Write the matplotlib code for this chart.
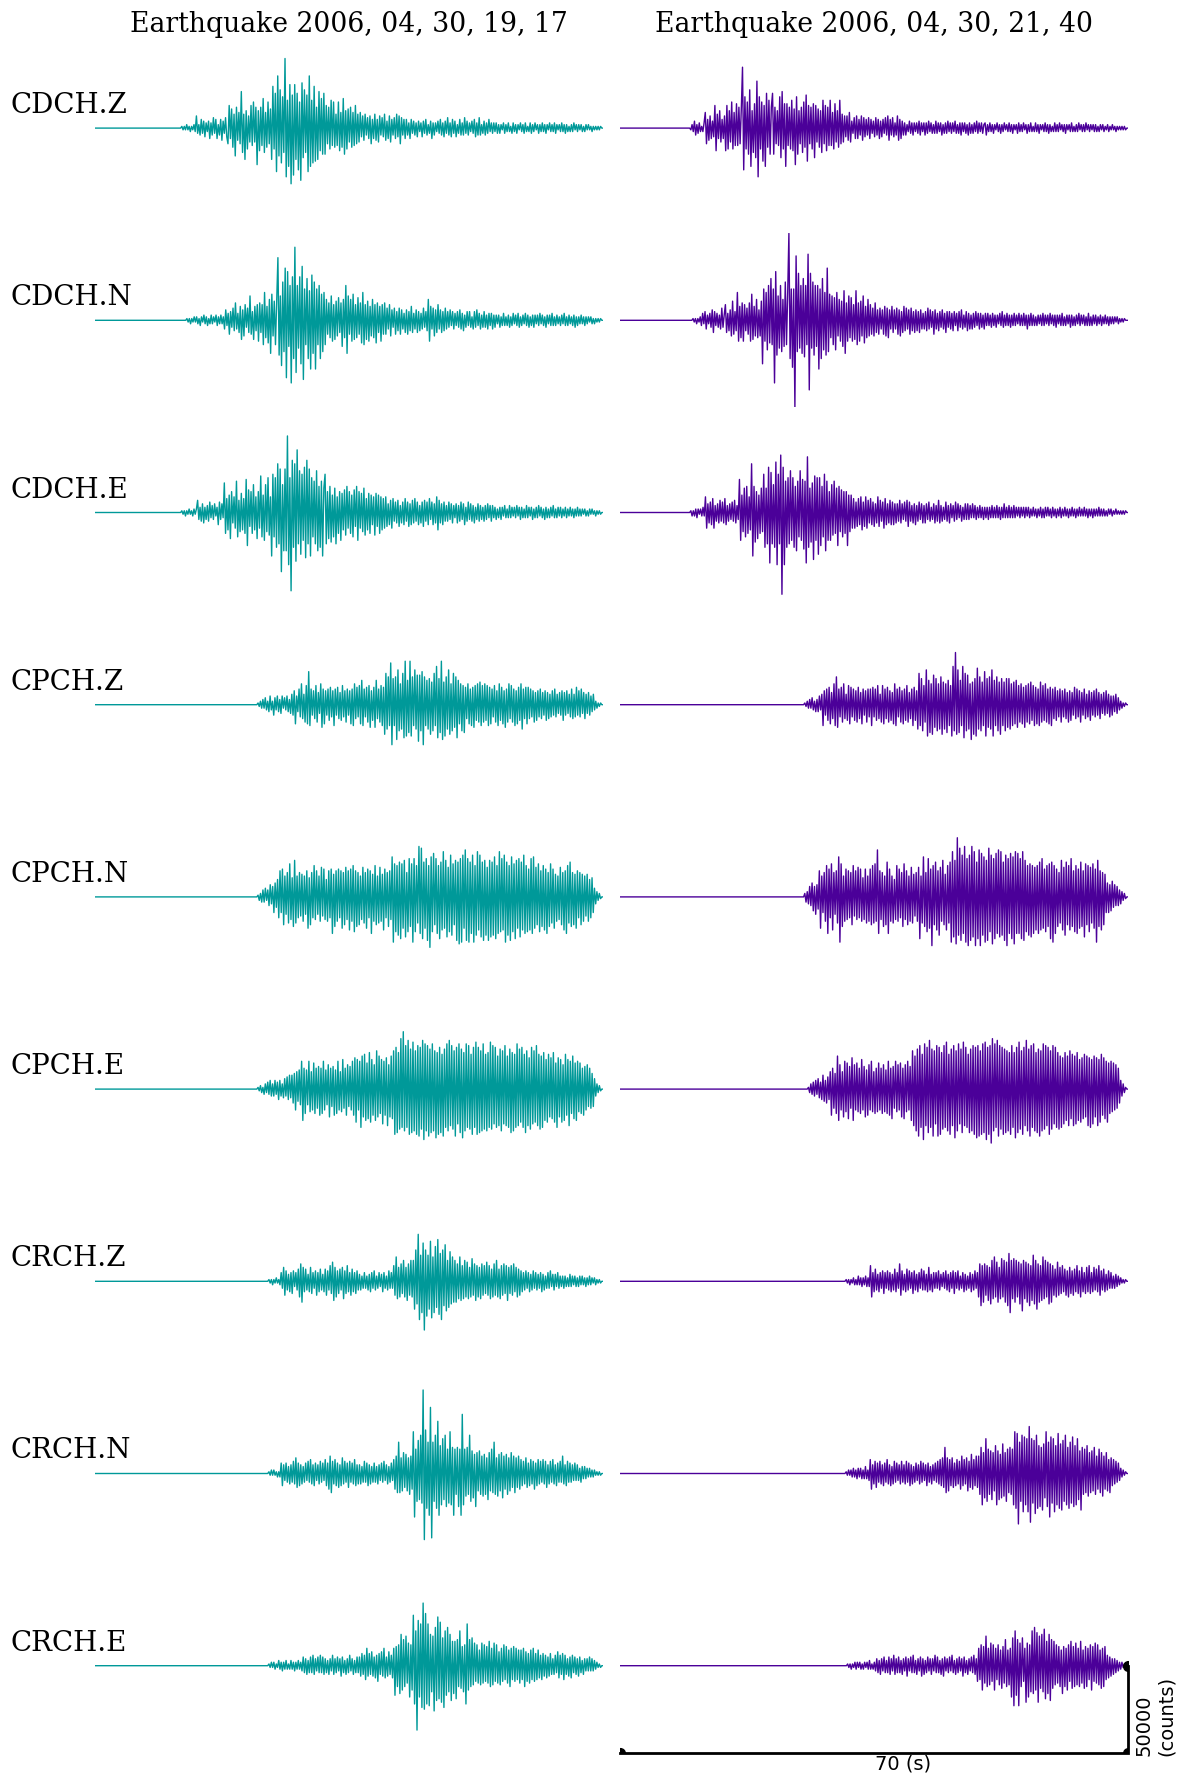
import numpy as np
import matplotlib
matplotlib.use("Agg")
import matplotlib.pyplot as plt


def _v(s):
    return [int(x) for x in s.split()]


# ---------------- data (amplitudes in thousands of counts) ----------------
T_END = 70.0
stations = ["CDCH.Z", "CDCH.N", "CDCH.E", "CPCH.Z", "CPCH.N", "CPCH.E",
            "CRCH.Z", "CRCH.N", "CRCH.E"]
titles = ["Earthquake 2006, 04, 30, 19, 17", "Earthquake 2006, 04, 30, 21, 40"]
onset_a = [11.8, 12.5, 11.8, 22.3, 22.3, 22.3, 23.8, 23.8, 23.8]
onset_b = [9.6, 9.9, 9.6, 25.3, 25.3, 25.8, 31.0, 31.0, 31.2]

cdch_z_a = _v("""
0 1 -1 1 -1 2 -1 1 -2 1 -1 2 -2
7 -3 2 -4 5 -3 4 -5 3 -2 4 -6 3 -4 6 -3 5 -6 2 -4 5 -7 4 -3 6 -5
-9 13 -6 11 -11 8 -16 12 -7 9 -9 21 -14 8 -18 10 -12 7 -8
13 -10 15 -8 12 -21 10 -13 12 -10 17 -14 9 -11 15 -9 11
-18 24 -12 20 -25 30 -16 22 -20 18 -14 40 -28 16 -22 25 -32 19 -27 25 -18 20 -24 15 -30 26 -17 22
-14 19 -25 30 -22 16 -20 24 -19 12 -18 21 -13 17 -15 20
-15 13 -9 12 -12 16 -10 15 -11 8 -10 15 -13 9 -11 17 -15 10 -12 11 -8 12 -11 9 -10 13 -9 8
-8 9 -5 7 -7 8 -4 6 -6 7 -9 5 -6 8 -7 5 -8 7 -4 6 -5 8 -7 4 -6 7 -8 5 -4 6 -6 8 -5 7 -9 6 -4 5 -6
5 -4 3 -6 5 -3 4 -4 3 -5 4 -2 3 -5 4 -3 5 -4 2 -3 4 -6 3 -4 3 -2 4 -3 5 -4 3 -5 4 -3
6 -4 3 -5 5 -3 4 -5 2 -3 5 -4 3 -4 6 -3 4 -4 3 -2 4 -3 5 -5 3 -4 6 -4 2 -3 4 -4 3 -3 5 -2 3 -3
3 -2 3 -3 2 -3 2 -1 3 -3 2 -2 3 -2 1 -3 3 -2 2 -3 2 -1 3 -2 2 -3 3 -2 1 -2 3 -3 2 -2 3 -1 2 -3
2 -2 3 -2 2 -3 2 -1 3 -2 2 -2 3 -3 2 -1 2 -2 3 -2 2 -3 2 -2 1 -2 2 -2 3 -1 2 -2 2 -1 2 -2 1 -2
2 -1 2 -1 1 -2 1
-1 1 -1 1 -1 1 0 0
""")
cdch_n_a = _v("""
0 1 -1 1 -2 1 -1 2 -1 2 -2 1 -3 2 -1 3 -2 2 -3 1 -2 3 -2 2 -1 3 -3 2 -2 3 -2 2
-5 6 -3 4 -8 5 -4 7 -6 10 -5 4 -7 8 -11 6 -9 9 -4 7 -7 14 -8 5 -11 8 -6 9
-12 10 -7 9 -14 16 -10 8 -13 12 -19 15 -9 11 -14 12
36 -20 14 -26 22 -18 30 -33 28 -15 20 -36 25 -22 42 -30 20 -16 25 -25 31 -34 18 -14 24 -22 17 -28
26 -19 22 -28 18 -14 20 -22 15 -18 16
-14 12 -8 10 -10 14 -12 9 -11 11 -9 13 -7 10 -15 12 -10 20 -19 14 -8 12 -12 15 -11 9 -10 13 -8 10
-13 16 -14 9 -11 11 -12 8 -9 12 -10 9 -13 10 -7 8 -12 9 -8 10
-8 7 -5 9 -9 6 -4 7 -8 5 -6 7 -8 6 -5 4 -7 6 -8 5 -6 8 -7 4 -5 6 -7 5 -6 4 -5 7 -4 5
-6 12 -12 8 -5 7 -9 6 -7 9 -5 6 -7 5 -6 7 -5
5 -4 6 -3 5 -5 4 -3 5 -4 6 -5 4 -6 3 -4 5 -3 5 -4 2 -5 5 -4 6 -3 4 -5 3 -4 5 -4 3 -5 4 -3 4 -5
3 -4 3 -2 3 -4 2 -3 4 -3 2 -3 3 -4 2 -3 4 -2 3 -3 4 -4 2 -3 3 -2 4 -3 3 -4 2 -3 3 -4 3 -2 3 -3
4 -2 3 -3 2 -4 3 -2 3 -3 4 -3 2 -3 3 -2 2 -3 3 -2 4 -3 2 -3 3 -2 2 -3 3 -4 2 -3 2 -2 3 -2 2 -3
2 -2 2 -1 2 -2 1
-2 1 -1 1 -1 1 0 0
""")
cdch_e_a = _v("""
0 1 -1 1 -2 1 -1 2 -1 1 -2 2 -1 2
7 -4 3 -5 5 -6 3 -4 4 -5 6 -3 4 -4 5 -2 3 -7 6 -4 5 -3
17 -12 8 -10 10 -15 12 -6 9 -9 18 -14 7 -11 11 -10 8 -12 19 -19 13 -8 12 -12 16 -10 9 -15 12 -9
21 -14 10 -16 16 -11 20 -13 9
-25 22 -14 20 -20 28 -18 25 -34 16 -22 25 -22 44 -30 20 -45 30 -20 28 -28 36 -18 24 -24 22 -16 26
-26 30 -18 25 -25 20 -14 18 -18 24 -22 15 -20 18 -25 14
22 -18 12 -15 15 -17 10 -14 14 -18 9 -12 12 -16 11 -10 13 -13 15 -9 12 -12 10 -14 13 -8 15 -16 12
-9 11 -11 14 -13 8 -10 11 -12 10 -7 9 -13 11 -8 10 -12 9 -10 8 -9
9 -8 5 -7 7 -9 8 -5 6 -6 7 -8 4 -6 6 -7 8 -5 6 -8 5 -7 7 -6 8 -5 6 -7 4 -6 6 -8 7 -5 6 -7 8 -4
6 -7 5 -6 9 -10 7 -6 5 -7 6 -5 4
-5 6 -4 5 -6 4 -3 5 -6 4 -5 6 -4 5 -7 3 -5 6 -4 5 -5 4 -6 3 -4 5 -5 4 -4 3 -5 4 -4 5 -3 4 -5 4
-3 3 -4 2 -3 3 -4 3 -2 4 -3 2 -3 4 -3 3 -2 3 -3 4 -2 3 -4 3 -3 2 -3 4 -3 3 -2 3 -4 2 -3 3 -3 4
-2 3 -3 2 -4 3 -3 2 -3 3 -2 4 -3 2 -3 3 -2 3 -3 2 -2 3 -3 2 -2 3 -2 2 -3 2 -2 3 -2 2 -2 2 -1 2
-2 1 -2 2 -1 2 -1
1 -2 1 -1 1 -1 0 0
""")
cpch_z_a = _v("""
0 1 -1 2 -2 3 -2 4 -3 2 -4 5 -3 2 -6 4 -3 5 -4 3 -5 5 -2 4 -3 5 -4 3 -5
6 -6 8 -11 5 -4 9 -7 12 -8 6 -10 11 -11 19 -12 9 -6 8 -8 11 -10 7 -5 12 -13 9 -11 8 -6 9 -9 10
-7 8 -12 9 -6 10 -8 7 -9 11 -7
8 -10 9 -6 8 -11 9 -12 12 -8 10 -7 11 -11 14 -12 9 -7 10 -10 11 -13 8 -9 10 -13 14 -8 9 -10 11
-12 10
-17 18 -14 16 -12 24 -23 15 -12 16 -20 20 -15 12 -14 18 -19 25 -18 14 -16 25 -18 16 -12 20 -14 17
-21 17 -15 19 -23 16 -12 14 -14 15 -17 13 -15 18 -12 22 -19 15 -16 25 -20 13 -18 16 -14 20 -17
12 -15 18 -13 16 -19 14 -11
12 -15 11 -16 10 -8 12 -11 9 -12 10 -13 11 -9 12 -10 13 -12 11 -10 12 -9 11 -12 10 -11 9 -7 11
-10 8 -12 12 -9 10 -11 8 -13 9 -10 12 -8 11 -10 9 -12 8 -11 10 -9 12 -14 9 -8 10 -11
10 -8 9 -7 8 -10 7 -9 8 -7 9 -8 7 -6 8 -9 7 -8 6 -7 8 -6 9 -7 6 -5 7 -6 8 -9 7 -6 8 -5 6 -7 9
-8 6 -7 10 -6 8 -7 9 -5 7 -8 6 -5 7 -6 5 -4 6
-3 2 -2 1 -1 1 0 0
""")
cpch_n_a = _v("""
0 1 -2 2 -3 4 -3 5 -2 4 -5 7 -4 6 -9 8 -6
10 -12 15 -9 16 -16 12 -10 14 -15 19 -13 11 -17 21 -15 12 -12 14 -11 13 -14 12 -10 15 -18 11 -16
14 -12 18 -13 15 -10 12 -14 17 -11 16 -13 10 -14 15 -12
16 -21 13 -17 15 -14 16 -12 15 -18 14 -16 17 -13 15 -19 16 -14 18 -20 15 -17 14 -16 12 -13 17 -15
14 -18 16 -12 15 -21 13 -14 18 -16 12 -15 17 -14 13 -19 16 -12 14 -17 15 -13
23 -26 19 -20 18 -22 20 -24 19 -18 21 -23 14 -20 22 -17 19 -26 22 -20 18 -15 29 -21 28 -24 20 -18
22 -25 18 -29 23 -20 25 -16 22 -21 18 -24 20 -19 26 -18 21 -23 17 -20 24 -22 19 -16 21 -25 20
-27 22 -26 24 -18 27 -25 22 -26 20 -21 24 -26 18 -22 26 -19 24 -23 20 -25 21 -22 17 -25 21 -23 20
-22 23 -24 18 -21 26 -20 22 -19 24 -26 20 -22 18 -25 23 -20 19 -24 21 -18 22 -23 20 -19 24 -21 18
-20 16 -19 22 -21 23 -18 17 -16 19 -20 15 -17 18 -19 16 -21 14 -17 19 -15 16 -18 13 -14 12 -13 17
-16 14 -19 15 -21 18 -15 20 -17 14 -16 13 -18 15 -12 14 -16 13 -14 12 -11 13 -14 10 -12 11 -9
5 -4 3 -2 2 -1 0 0
""")
cpch_e_a = _v("""
0 1 -1 2 -2 1 -3 3 -2 4 -3 5 -4 3 -4 5 -3 4 -6 5 -4 3 -5 6 -4 7 -6 8 -5
8 -8 9 -12 10 -7 11 -9 16 -18 12 -14 11 -9 16 -13 10 -12 15 -14 12 -11 13 -15 12 -14 16 -12 11 -9
14 -16 12 -10 13 -15 11 -14 16 -12 10 -13 17 -11 12 -15 14 -10 13 -12
16 -15 18 -19 17 -12 16 -22 19 -16 20 -18 15 -17 21 -19 17 -15 14 -18 22 -16 19 -14 17 -20 16 -15
18 -21 14 -16 19 -17
22 -26 24 -25 21 -23 29 -22 33 -24 25 -22 28 -26 23 -25 27 -24 22 -26 25 -27 24 -23 28 -29 26 -24
25 -27 23 -25 26 -24 22 -28 21 -26 24 -25 20 -27 23 -22 26 -24 28 -21 25 -23 22 -27 24 -20 26 -25
23 -28 21 -24 26 -22 25 -23 20 -26 24 -22 27
-26 24 -25 22 -24 26 -23 20 -24 21 -22 27 -23 25 -20 24 -22 19 -21 23 -24 22 -20 25 -21 19 -22 23
-25 21 -24 20 -22 26 -21 23 -19 24 -22 20 -25 22 -21 18 -23 24 -20 22 -19 25 -21 20 -23 19 -22 21
-18 17 -19 20 -16 18 -17 21 -19 15 -22 18 -16 17 -19 14 -18 20 -15 17 -21 16 -14 19 -17 15 -18 16
-13 15 -14 12 -15 13 -12 14 -10 12 -11 9 -10
6 -4 3 -2 2 -1 0 0
""")
crch_z_a = _v("""
0 1 -1 1 -2 1 -1 2 -1 1 -2
5 -4 8 -8 6 -5 4 -6 5 -7 6 -3 5 -5 7 -9 10 -12 8 -6 7 -5 4 -6 8 -7 5 -4 6 -8 5 -6 7 -5 4 -6
7 -8 6 -5 9 -7 11 -11 8 -9 6 -7 7 -5 8 -10 6 -7 9 -6 5 -8 7 -6 5 -7 6 -5
4 -5 3 -4 5 -4 3 -5 4 -6 5 -4 6 -5 3 -4 5 -3 4 -6 5 -4 3 -5 6 -4 5 -4
9 -8 14 -10 8 -9 10 -7 12 -9 8 -11 10 -8 12 -9
12 -16 18 -13 27 -22 15 -18 22 -28 18 -20 15 -16 23 -21 14 -18 20 -15 24 -19 16 -22 18 -14 21 -17
12 -15 17 -13 14 -12
12 -12 10 -10 14 -11 9 -10 12 -9 11 -10 8 -9 13 -8 10 -11 9 -9 8 -10 10 -8 9 -7 11 -8 9 -10 7 -9
10 -8 12 -9 7 -10 9 -8 10 -7 9 -11 8 -7 9 -8 10 -6 8 -9 7 -8
6 -6 5 -5 6 -4 5 -6 4 -5 6 -4 5 -5 4 -4 5 -6 4 -5 3 -4 5 -4 6 -3 4 -5 4 -3 5 -4 3
-3 3 -4 3 -3 2 -3 4 -3 3 -2 3 -3 2 -3 3 -2 3 -2 2 -3 2 -2 3 -2 2 -1 2 -2 1 -1 1 -1 0 0
""")
crch_n_a = _v("""
0 1 -1 2 -1 2 -1 1 -2 1 -2
6 -7 5 -4 6 -5 4 -6 5 -5 7 -6 9 -8 6 -7 5 -6 4 -5 6 -4 7 -5 8 -6 5 -7 6 -4 5 -6 7 -5 6 -4
8 -7 6 -9 10 -11 7 -6 8 -7 6 -8 5 -7 9 -6 7 -5 6 -8 7 -5 6 -6 8 -7 5 -6
5 -6 4 -5 7 -5 6 -7 5 -6 4 -5 6 -5 4 -6 5 -4 6 -5 7 -4 5 -6 4 -5 6 -4
8 -9 10 -11 18 -11 9 -10 12 -8 11 -10 9 -12 10 -9
24 -25 14 -16 19 -15 22 -17 48 -38 25 -20 18 -24 38 -37 18 -16 22 -20 30 -24 16 -18 20 -15 22 -19
14 -17 24 -18 15 -24
14 -12 15 -19 14 -24 34 -18 14 -13 15 -12 22 -16 13 -14 11 -19 12 -10 13 -12 10 -13 11 -12 9 -15
12 -10 14 -11 18 -12 9 -13 11 -10 12 -14 10 -9 11 -12 9 -10 12 -8 10 -11 9 -8 10 -9
8 -7 7 -6 9 -8 6 -7 8 -6 7 -9 6 -7 8 -6 7 -5 8 -6 7 -8 5 -6 7 -5 8 -6 5 -7 6 -5 7
-5 10 -6 5 -7 7 -5 6 -5 5 -4 6 -4 5 -4 3 -5 4 -3 4 -3 3 -2 3 -2 2 -2 2 -1 1 -1 1 -1 0 0
""")
crch_e_a = _v("""
0 1 -1 2 -1 2 -2 1 -1 3 -2 2 -3 2 -2 3 -2 1 -2 3 -2 2 -3 2 -2 3 -2 2 -3
5 -4 4 -5 3 -4 5 -4 6 -5 4 -3 5 -4 6 -4 5 -5 4 -4 3 -5 4 -3 6 -5 4 -4 5 -3 4 -6 5 -4 3 -5 4 -4
6 -3 4 -5 3 -4 5 -4
5 -6 7 -5 6 -8 10 -6 7 -5 8 -6 5 -7 6 -9 7 -5 8 -6 10 -7 5 -6 8 -5 6 -7
10 -17 11 -12 12 -16 18 -14 15 -12 17 -10 13 -18 12 -14
29 -22 20 -37 26 -18 24 -24 36 -25 30 -22 24 -23 18 -15 17 -26 22 -20 28 -19 25 -21 16 -24 20 -17
22 -15 18 -20 14 -16
14 -19 15 -12 20 -13 11 -15 12 -22 24 -14 15 -12 16 -11 13 -9 12 -10 9 -11 13 -10 12 -9 11 -10
14 -12 10 -11 13 -9 12 -10 8 -11 10 -9 12 -8 11 -10 9 -12 10 -8 11 -9 10 -8 9 -10
9 -8 10 -12 8 -9 7 -10 9 -8 10 -9 7 -8 9 -7 6 -8 7 -6 6 -7 5 -6 7 -5 4 -5 6 -4 8 -7 6 -5 7 -8
6 -5 4 -6 5 -7 6 -4 5 -5 4 -6 5 -4 3 -5 4 -3 4 -3 5 -3 4 -3
3 -2 2 -1 1 -1 0 0
""")

cdch_z_b = _v("""
0 -1 2 -2 4 -4 2 -3 3 -2 1 -2 3
9 -9 5 -7 7 -6 4 -5 13 -13 8 -6 10 -8 5 -6 7
-13 13 -12 10 -8 15 -12 9 -10 14 -10 12 -9 11
35 -24 18 -12 15 -15 22 -22 10 -14 14 -17 27 -28 18 -12 15 -19 13 -22 20 -11 16 -15 12
20 -15 12 -9 10 -10 18 -17 21 -12 14 -22 14 -10 12 -12 16 -13 11 -21 18 -15 10 -9 12
-14 15 -11 19 -19 13 -9 12 -12 14 -17 13 -8 11 -11 10 -14 16 -9 13 -13 12 -10 16 -10 9 -12 14 -8
10 -11 16 -9 8
-8 7 -5 7 -7 9 -8 4 -3 6 -6 7 -6 5 -4 7 -7 6 -5 5 -4 6 -6 5 -3 4 -5 6 -4 5 -6 4 -5 5 -3 6 -4 7
-7 5 -4 6 -5 3 -4 7 -7 5 -6 4
-4 3 -4 2 -2 4 -3 3 -4 3 -2 3 -3 4 -4 3 -2 3 -4 3 -3 4 -2 3 -3 2 -3 4 -3 3 -2 3 -4 2 -3 3 -3 4
-2 3 -3 3 -2 4 -3 2 -3 3 -4 3 -2 3 -3 2 -4 3 -3 2 -3 3 -2 4 -3 3 -2 3 -3 2
3 -4 2 -2 3 -2 2 -3 2 -1 3 -2 2 -3 2 -2 3 -1 2 -2 3 -2 2 -3 2 -1 2 -3 3 -2 2 -2 3 -1 2 -3 2 -2
3 -2 1 -2 3 -2 2 -3 2 -1 2 -2 3 -2 2 -3 2 -2 1 -2 3 -2 2 -2 3 -1 2 -2 2 -3 2 -1 2 -2 3 -2 1 -2
2 -2 3 -1 2 -2 2 -2 3 -1 2 -2 2 -1 2 -2 2 -2 1 -2 2 -1 2 -2 1 -1 2 -2 1 -1 2 -1 1 -2 1 -1 1 -1
1 -1 1 -1 0 0
""")
cdch_n_b = _v("""
0 1 -1 1 -2 1 -1 2
-3 4 -2 5 -5 3 -2 4 -4 6 -7 5 -3 4 -4 3 -5 7 -4 3
9 -7 4 -6 6 -9 11 -8 5 -6 16 -12 8 -10 10 -12 9 -6 7 -8 10 -12 15 -11 8 -9 12 -10 6 -9 11
-25 18 -12 16 -17 20 -13 24 -14 18 -36 28 -20 14 -16 20 -18 12 -15 22 -14 16
50 -22 18 -27 18 -50 37 -18 27 -16 20 -19 24 -21 20 -14 38 -40 27 -16 22 -20 20 -15 20 -28 18 -22
24 -17 16 -20 30
-18 15 -10 14 -14 13 -17 16 -9 12 -12 11 -15 17 -19 10 -12 14 -10 13 -12 9 -11 17 -14 10 -12 11
-9 14 -13 8 -10 12
-9 9 -8 7 -9 10 -7 6 -8 7 -5 6 -8 8 -9 7 -10 6 -5 8 -7 6 -5 7 -8 6 -9 5 -7 8 -6 7 -5 6 -8 7 -6
5 -7
6 -6 5 -7 6 -5 4 -5 5 -6 7 -5 6 -4 5 -8 6 -5 4 -6 5 -4 6 -5 4 -7 5 -4 5 -5 4 -6 5 -3 4 -6 5 -4
6 -5 3 -4 5 -6 4 -5 3 -5 4 -4 5 -3 4 -5 4
-4 3 -5 4 -3 4 -3 3 -4 4 -3 3 -4 3 -2 4 -3 5 -4 3 -3 4 -3 3 -4 3 -3 4 -3 3 -2 4 -3 3 -3 4 -3 3
-5 3 -3 4 -3 3 -3 2 -3 3 -2 3 -3 4 -3 3 -2 3 -3 4 -2 3 -3 3 -4 3 -2 3 -3 4 -3 2 -3 3 -2 3 -4 3
-3 2 -3 3 -2 4 -3 3 -2 3 -3 2 -3 4 -3 2 -3 3 -2 3 -3 2 -2 3 -3 2 -2 3 -2 2 -3 2 -2 2 -2 2 -1 2
-2 1 -1 1 -1 1 0 0 0
""")
cdch_e_b = _v("""
0 1 -2 1 -2 2 -3 2 -1 2 -2 3 -2
9 -9 5 -6 6 -7 8 -9 4 -5 5 -6 7 -5 6 -6 8 -7 4 -5 5 -4 6 -5 7 -6 4 -4
19 -16 10 -11 14 -14 15 -12 9 -10 28 -25 15 -17 12 -15 10 -12 14 -11
22 -20 14 -18 26 -29 23 -18 16 -20 29 -30 22 -18 33 -47 26 -30 18 -20 20 -18 24 -16 20 -20 15 -22
18 -14 24 -16 19
-21 18 -29 32 -20 14 -17 17 -27 21 -16 20 -24 20 -19 15 -14 22 -22 18 -16 12 -16 16 -13 18 -12 14
-19 15 -11 13 -14 12
-12 12 -19 10 -11 10 -9 8 -9 6 -8 8 -7 9 -10 6 -8 9 -9 7 -6 8 -7 6 -8 5 -6 9 -8 7 -5 6 -9 8 -7
5 -6 7
-7 6 -7 5 -6 5 -5 7 -6 5 -4 6 -5 7 -8 6 -5 4 -6 5 -7 4 -5 6 -4 5 -6 4 -6 5 -4 6 -5 3 -4 5 -6 4
-5 7 -6 4 -5 3 -4 6 -5 4 -6 5 -3 4 -5 6 -4 5 -3 4 -5 3 -4 5
-4 5 -4 4 -3 5 -3 4 -4 3 -3 4 -3 3 -4 3 -3 3 -4 3 -3 4 -3 3 -3 4 -3 3 -4 3 -3 5 -3 3 -3 4 -3 3
-3 4 -3 3 -2 3 -3 3 -2 3 -3 3 -2 3 -3 2 -2 3 -2 2 -3 2 -2 3 -3 2 -3 3 -2 3 -2 2 -3 3 -2 2 -3 2
-2 3 -3 2 -2 3 -2 2 -3 2 -2 3 -2 2 -3 2 -2 3 -2 2 -2 3 -2 2 -3 2 -2 2 -3 2 -2 2 -2 3 -2 2 -2 2
-2 1 -2 2 -1 2 -2 1 -1 2 -1 1 -1 1 -1 1 -1 1 0 0
""")
cpch_z_b = _v("""
0 1 -1 2 -2 3 -2 4 -3 2 -4 3 -4 5 -3 6
-12 8 -6 9 -9 10 -11 7 -8 12 -12 16 -13 9 -7 10 -10 12 -8 6 -9 11 -11 10 -7 9 -9 8 -10 10 -8 7
-11 9 -6 8 -10 9 -7
9 -12 10 -7 9 -9 11 -8 6 -10 11 -11 9 -8 10 -10 8 -9 7 -11 12 -12 9 -7 10 -10 8 -11 9 -9 11 -10
7 -8 9 -12 10 -9 8
-14 18 -12 15 -15 11 -10 20 -18 14 -16 12 -17 17 -13 15 -15 12 -14 16 -17 13 -14 12 -16 14 -12 11
-18 22 -15 30 -17 20 -16 14 -12 22 -19 18 -15 17 -14 12 -20 13 -17 15 -18 21 -14 16 -15 13 -12 19
-18 15 -13 16 -14 20 -18 14 -12 16 -15 13 -17 15 -12 13
-15 15 -13 15 -14 12 -12 13 -11 14 -13 11 -10 12 -11 10 -13 11 -10 12 -11 13 -9 11 -12 10 -11 9
-12 13 -10 11 -9 12 -10 9 -11 10 -12
9 -8 10 -9 8 -7 9 -10 8 -7 9 -8 7 -10 8 -9 7 -6 10 -8 9 -7 8 -10 7 -6 9 -8 6 -7 8 -9 7 -6 8 -7
9 -6 7 -8 6 -5 7 -6 8 -5 6 -7 5 -6 5 -4 6 -5 4
-3 2 -2 1 -1 1 0 0
""")
cpch_n_b = _v("""
0 2 -3 3 -4 6 -5 8 -8 6 -10
7 -7 15 -18 12 -9 14 -14 18 -21 16 -12 19 -19 14 -10 15 -15 23 -26 19 -17 12 -14 16 -13 15 -12 14
-16 18 -11 15 -13 17 -12 16 -14 11 -13 16 -15 12 -14
16 -16 18 -15 19 -14 27 -21 15 -13 14 -17 12 -16 20 -21 16 -14 12 -15 10 -13 18 -14 16 -12 14 -17
19 -13 15 -16 12 -14 17 -15 13 -11 14
-14 17 -24 12 -15 23 -17 14 -20 22 -18 16 -28 18 -16 20 -19 15 -22 17 -14 21 -16 13 -19 18 -15 20
-26 26 -23 21 -27 34 -22 28 -25 24 -21 29 -26 22 -28 24 -25 29 -23 26 -28 20 -24 27 -28 25 -22 23
-26 21 -25 28 -20 24 -27 22 -24 25 -21 27 -23 26 -22 20 -25 24 -28 22 -21 25 -24 23 -27 26 -21
25 -21 22 -24 26 -25 21 -20 18 -22 19 -23 18 -21 17 -19 18 -21 20 -19 22 -18 16 -20 18 -17 19 -24
20 -26 18 -21 16 -17 14 -15 21 -19 17 -22 20 -16 18 -19 22 -17 15 -20 18 -21 16 -18 20 -17 15 -23
19 -16 18 -20 17 -15 19 -18 16 -26 21 -17 15 -19 14 -16 13
-9 8 -9 7 -8 9 -6 7 -5 6 -5 4 -4 3 -2 2 -1 0 0
""")
cpch_e_b = _v("""
0 1 -2 3 -3 4 -4 5 -3 6 -5 4 -6 8 -7 5 -8 7 -6
10 -15 12 -11 9 -14 19 -18 14 -12 10 -16 16 -13 15 -17 13 -11 18 -18 14 -12 15 -13 12 -14 17 -12
13 -16 11 -15 14 -12 16 -13 10 -14 12
-13 15 -12 12 -14 14 -13 11 -14 16 -15 12 -17 13 -11 16 -13 14 -12 15 -16 12 -17 14 -13 16 -12 13
-18 22 -21 19 -24 23 -27 25 -22 20 -29 26 -21 24 -25 28 -22 23 -27 22 -20 25 -27 24 -26 21 -23 25
-22 27 -24 20 -26 23 -21 25 -28 22 -24 26 -20 23 -25 27 -21 24 -22 20 -25 23
-24 25 -26 24 -28 25 -27 22 -26 26 -25 27 -29 24 -26 25 -31 29 -24 26 -22 28 -27 25 -23 24 -26 23
-25 22 -24 21 -26 25 -22 21 -28 24 -25 27 -23 22 -26 24 -21 28 -24 23 -27 25 -22 26 -24 21 -25 23
-27 22 -24 26 -23 25 -21 24 -26 22 -23 25 -20 24 -22 21 -23
19 -22 18 -20 21 -18 19 -21 22 -17 20 -21 19 -20 21 -18 17 -19 18 -17 20 -16 19 -21 18 -22 17 -20
19 -16 18 -21 17 -19 20 -15 18 -17 16 -19 15 -14 16 -13 15 -12 14 -11 12
-8 5 -4 3 -2 1 0 0
""")
crch_z_b = _v("""
0 1 -1 1 -2 1 -1 2 -2 1 -2 3 -2 2 -3 2 -2 3 -3 2 -3
9 -9 5 -6 7 -5 4 -6 5 -4 6 -7 5 -4 6 -5 5 -6 4 -5 7 -6 5 -4 10 -8 6 -5 4 -6 7 -5 6 -4 5 -7 6 -5
4 -6 5 -4 7 -5 6 -5 4 -6 8 -5 4 -6 5
-4 5 -4 6 -5 4 -3 5 -4 6 -5 4 -6 5 -4 6 -7 5 -4 6 -5 3 -4 5 -6 4 -5 3 -4 5 -6 4 -5 6 -4 5
-9 10 -14 9 -12 10 -8 9 -11 8 -13 12 -10 14 -9 11 -12 8 -10 13 -9 12
-12 11 -14 16 -18 12 -10 13 -12 12 -9 11 -13 10 -17 12 -10 11 -12 10 -14 9 -11 15 -13 12 -16 10
-12 9 -11 14 -10 12 -9 11 -13 10 -12
9 -8 7 -9 11 -8 8 -7 9 -6 7 -8 6 -9 8 -7 6 -8 7 -6 9 -7 6 -9 8 -6 5 -7 8 -6 9 -7 5 -6 8 -5 7
-6 9 -8 6 -5 7 -6 4 -5 6 -4 5 -4 3 -4 4 -3 3
-2 2 -1 1 -1 1 0 0
""")
crch_n_b = _v("""
0 1 -1 2 -1 2 -2 3 -2 2 -3 3 -2 3 -3 2 -3 4 -3 2 -4
8 -9 5 -6 7 -8 6 -5 7 -6 5 -7 6 -5 8 -6 5 -7 4 -6 7 -5 6 -4 5 -6 7 -5
5 -6 7 -5 6 -7 5 -6 4 -5 6 -4 5 -6 7 -5 6 -4 5 -7 6 -5 4 -6 5 -4 6 -5
7 -6 8 -7 9 -8 15 -11 9 -10 8 -7 9 -8 6 -7 8 -6 7 -9 10 -7 8 -6 9 -10 7 -8 11 -9 8 -7 10 -8
10 -12 15 -18 12 -14 20 -16 14 -12 13 -15 12 -10 16 -18 13 -15 11 -14 17 -13 12 -16 14 -11 15 -12
14 -18 24 -20 23 -29 18 -16 22 -22 21 -18 20 -22 27 -28 20 -17 19 -23 22 -20 16 -19 15 -21 17 -14
24 -19 18 -25 21 -17 20 -22 16 -18 23 -20 17 -21 19 -16 22 -18 15 -20 18 -17 21 -19 16 -18 20 -15
13 -21 15 -12 14 -11 16 -13 12 -11 13 -10 15 -12 10 -9 14 -11 12 -13 10 -9 12 -10 8 -11 9 -7 8
-6 7 -5 6
-4 3 -2 2 -1 1 0 0
""")
crch_e_b = _v("""
0 1 -1 1 -2 1 -1 2 -2 2 -1 2 -2 1 -2 2 -1 2 -2 3 -2 1 -2 2 -3
4 -4 3 -5 4 -3 5 -4 3 -4 5 -5 4 -3 6 -5 4 -4 5 -4 3 -5 4 -3 5 -6 4 -3 5 -4 6 -4 3 -5 4 -3 5 -6
4 -5 3 -4 5 -3 4 -5 4 -3 6 -4 5 -4 3 -5 4 -6 5 -3 4 -4 5 -3 6 -4 3 -5 4 -4 5 -3 4 -6 5 -4 3 -5
4 -3 5 -4 6 -5 4
-9 10 -8 12 -14 11 -10 17 -12 10 -11 13 -9 12 -14 10 -8 12 -11 9 -13 11 -10 15 -12 9 -11 10
-18 16 -23 20 -17 15 -23 13 -12 16 -9 10 -21 13 -18 12 -15 20 -16 22 -14 19 -21 17 -13 18 -15 21
-19 14 -16 18 -20 15
-13 14 -11 12 -10 11 -12 9 -16 11 -12 10 -14 12 -9 14 -13 11 -12 13 -11 10 -12 14 -10 9 -13 11
-12 10 -8 12 -14 11 -9 13 -10 12 -11 9 -13 10 -12 11
-8 6 -7 5 -6 4 -5 4 -4 3 -3 2 -2 2 -1 1 -1 0 0
""")

traces_a = [cdch_z_a, cdch_n_a, cdch_e_a, cpch_z_a, cpch_n_a, cpch_e_a,
            crch_z_a, crch_n_a, crch_e_a]
traces_b = [cdch_z_b, cdch_n_b, cdch_e_b, cpch_z_b, cpch_n_b, cpch_e_b,
            crch_z_b, crch_n_b, crch_e_b]
colors = ["#009999", "#4B0099"]
scale_counts = 50000
scale_seconds = 70

# ---------------- layout ----------------
W, H = 1186, 1778
fig = plt.figure(figsize=(W / 100, H / 100), dpi=100)
left_px = [95, 620]
width_px = 508
row0 = 128.1
drow = 192.2
half = 87

serif = "DejaVu Serif"
for col, x0 in enumerate(left_px):
    fig.text((x0 + width_px / 2) / W, 1 - 32 / H, titles[col], ha="center",
             va="baseline", fontsize=19.2, family=serif)

last_ax = None
for r in range(9):
    c = row0 + r * drow
    fig.text(11 / W, 1 - (c - 15) / H, stations[r], ha="left", va="baseline",
             fontsize=20, family=serif)
    for col, (x0, traces, onsets) in enumerate(zip(left_px, [traces_a, traces_b],
                                                   [onset_a, onset_b])):
        ax = fig.add_axes([x0 / W, 1 - (c + half) / H, width_px / W, 2 * half / H])
        vals = np.asarray(traces[r], dtype=float) * 1000.0
        t = np.concatenate([[0.0], np.linspace(onsets[r], T_END, len(vals))])
        y = np.concatenate([[0.0], vals])
        ax.plot(t, y, color=colors[col], lw=1.0)
        ax.set_xlim(0, T_END)
        ax.set_ylim(-scale_counts, scale_counts)
        ax.axis("off")
        last_ax = ax

# scale bar in the last (bottom-right) panel
ax = last_ax
bar_x = [0, scale_seconds, scale_seconds]
bar_y = [-scale_counts, -scale_counts, 0]
ax.plot(bar_x, bar_y, color="black", lw=2.0, clip_on=False, solid_joinstyle="miter")
ax.plot(bar_x, bar_y, linestyle="none", color="black", marker="o", ms=7, clip_on=True)
fig.text(903 / W, 1 - 1755 / H, "70 (s)", ha="center", va="top", fontsize=14,
         family="DejaVu Sans")
fig.text(1155 / W, 1 - 1756 / H, "50000\n(counts)", rotation=90, ha="center",
         va="bottom", fontsize=14, multialignment="left", family="DejaVu Sans")

fig.savefig("out.png", dpi=100)
